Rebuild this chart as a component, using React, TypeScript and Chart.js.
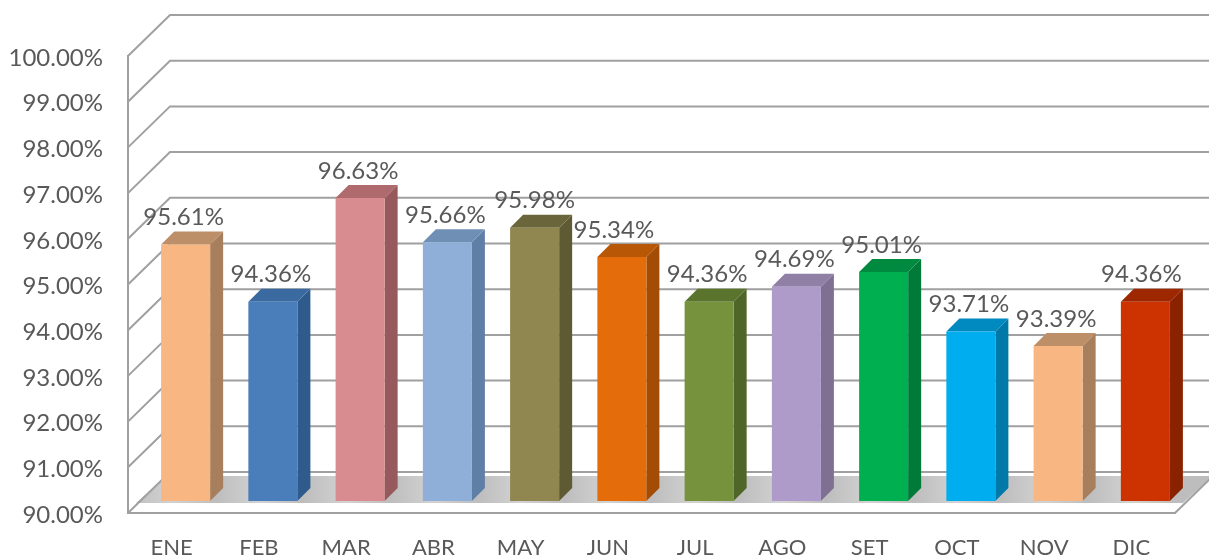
import React, { useEffect, useRef } from "react";
import { Chart, registerables } from "chart.js";

Chart.register(...registerables);

const categories = ["ENE", "FEB", "MAR", "ABR", "MAY", "JUN", "JUL", "AGO", "SET", "OCT", "NOV", "DIC"];
const values = [95.61, 94.36, 96.63, 95.66, 95.98, 95.34, 94.36, 94.69, 95.01, 93.71, 93.39, 94.36];
const frontColors = ["#F8B782", "#4A7EBB", "#D98C8F", "#8FAFD9", "#8F8650", "#E46C0A", "#76923C", "#AE9BC9", "#00AF50", "#00AEEF", "#F8B782", "#CC3300"];
const sideColors = ["#A77F5C", "#2F5A8C", "#96595C", "#5F7FA6", "#5E5A33", "#A24C05", "#4F6628", "#7F6F92", "#007A38", "#0079A8", "#A77F5C", "#8A2200"];
const topColors = ["#BC8F68", "#3A6A9F", "#AE6A6D", "#6F8FB5", "#6B653B", "#B85706", "#5A742E", "#9080A6", "#008A40", "#008ABF", "#BC8F68", "#9C2700"];
const labelShift = [0, 0, 0, 0, 2, -6, 0, 0, 0, 0, 0, -2];

const FONT = "Lato, 'Open Sans', sans-serif";
const TEXT = "#595959";
const LINE = "#A0A0A0";
const WALL_DX = 42;
const WALL_DY = 41;
const BAR_DX = 14;
const BAR_DY = 12;
const DEPTH = 13;

const box3d = {
  id: "box3d",
  beforeDatasetsDraw(chart: any) {
    const { ctx, scales, chartArea } = chart;
    const y = scales.y;
    const { left, right, bottom } = chartArea;
    ctx.save();
    // floor
    const g = ctx.createLinearGradient(left, 0, right, 0);
    const stops = 24;
    for (let i = 0; i <= stops; i++) {
      g.addColorStop(i / stops, i % 2 === 0 ? "#BDBDBD" : "#D2D2D2");
    }
    ctx.fillStyle = g;
    ctx.beginPath();
    ctx.moveTo(left + 8, bottom - 10);
    ctx.lineTo(left + WALL_DX - 4, bottom - WALL_DY + 4);
    ctx.lineTo(right + WALL_DX - 4, bottom - WALL_DY + 4);
    ctx.lineTo(right + 8, bottom - 10);
    ctx.closePath();
    ctx.fill();
    // walls
    ctx.strokeStyle = LINE;
    ctx.lineWidth = 2;
    for (let v = 90; v <= 100; v++) {
      const py = y.getPixelForValue(v);
      ctx.beginPath();
      ctx.moveTo(left, py);
      ctx.lineTo(left + WALL_DX, py - WALL_DY);
      ctx.lineTo(right + WALL_DX, py - WALL_DY);
      ctx.stroke();
    }
    ctx.beginPath();
    ctx.moveTo(right, bottom);
    ctx.lineTo(right + WALL_DX, bottom - WALL_DY);
    ctx.stroke();
    ctx.restore();
    // bar sides, in the bars' plane
    ctx.save();
    ctx.translate(BAR_DX, -BAR_DY);
    chart.getDatasetMeta(0).data.forEach((bar: any, i: number) => {
      const l = bar.x - bar.width / 2;
      const r = bar.x + bar.width / 2;
      const t = bar.y;
      const b = bar.base;
      ctx.fillStyle = sideColors[i];
      ctx.beginPath();
      ctx.moveTo(r, t);
      ctx.lineTo(r + DEPTH, t - DEPTH);
      ctx.lineTo(r + DEPTH, b - DEPTH);
      ctx.lineTo(r, b);
      ctx.closePath();
      ctx.fill();
      ctx.fillStyle = topColors[i];
      ctx.beginPath();
      ctx.moveTo(l, t);
      ctx.lineTo(l + DEPTH, t - DEPTH);
      ctx.lineTo(r + DEPTH, t - DEPTH);
      ctx.lineTo(r, t);
      ctx.closePath();
      ctx.fill();
    });
  },
  afterDatasetsDraw(chart: any) {
    const { ctx } = chart;
    ctx.restore();
    ctx.save();
    ctx.fillStyle = TEXT;
    ctx.font = `24px ${FONT}`;
    ctx.textAlign = "center";
    ctx.textBaseline = "middle";
    chart.getDatasetMeta(0).data.forEach((bar: any, i: number) => {
      ctx.fillText(`${values[i].toFixed(2)}%`, bar.x + BAR_DX - 2 + labelShift[i], bar.y - BAR_DY - 27);
    });
    ctx.restore();
  },
};

export default function App() {
  const ref = useRef<HTMLCanvasElement>(null);
  useEffect(() => {
    document.body.style.margin = "0";
    const chart = new Chart(ref.current!, {
      type: "bar",
      data: {
        labels: categories,
        datasets: [
          {
            data: values,
            base: 90,
            backgroundColor: frontColors,
            borderWidth: 0,
            categoryPercentage: 1,
            barPercentage: 0.562,
            clip: false,
          } as any,
        ],
      },
      options: {
        responsive: false,
        animation: false,
        layout: { padding: { top: 56, right: 34, left: 0, bottom: 0 } },
        plugins: { legend: { display: false }, tooltip: { enabled: false } },
        scales: {
          x: {
            grid: { display: false, drawTicks: false },
            border: { display: true, color: LINE, width: 2 },
            ticks: { color: TEXT, font: { family: FONT, size: 22 }, padding: 22, maxRotation: 0 },
            afterFit: (s: any) => { s.height = 45; },
          },
          y: {
            min: 90,
            max: 100,
            grid: { display: false, drawTicks: false },
            border: { display: true, color: LINE, width: 2 },
            ticks: {
              stepSize: 1,
              color: TEXT,
              font: { family: FONT, size: 24 },
              padding: 25,
              labelOffset: 2,
              callback: (v: any) => `${Number(v).toFixed(2)}%`,
            },
            afterFit: (s: any) => { s.width = 128; },
          },
        },
      },
      plugins: [box3d],
    });
    return () => chart.destroy();
  }, []);
  return <canvas ref={ref} width={1209} height={558} style={{ display: "block", background: "#fff" }} />;
}
